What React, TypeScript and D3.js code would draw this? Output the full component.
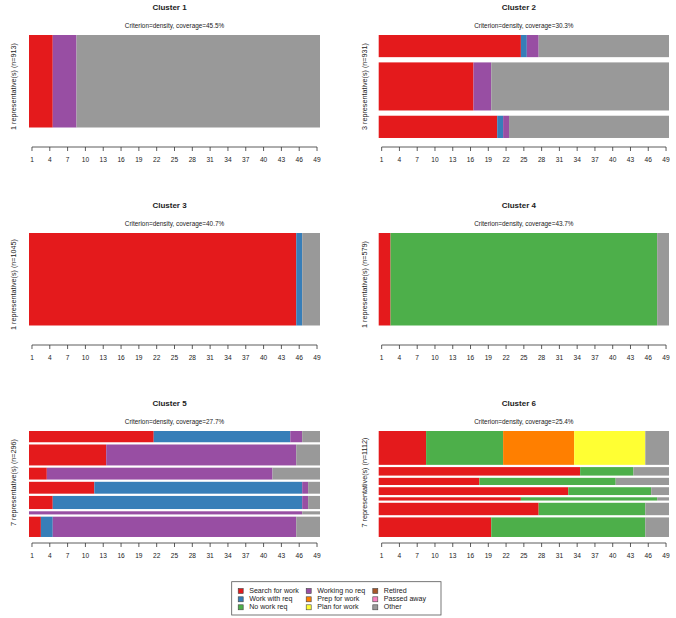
import React from "react";
import * as d3 from "d3";

// estados y colores (paleta Set1)
const stateCodes = ["SW", "WR", "NW", "WN", "PR", "PL", "RE", "PA", "OT"];
const stateLabels = [
  "Search for work",
  "Work with req",
  "No work req",
  "Working no req",
  "Prep for work",
  "Plan for work",
  "Retired",
  "Passed away",
  "Other",
];
const stateColors = [
  "#E41A1C",
  "#377EB8",
  "#4DAF4A",
  "#984EA3",
  "#FF7F00",
  "#FFFF33",
  "#A65628",
  "#F781BF",
  "#999999",
];

const seqLength = 49;
const tickLabels = [1, 4, 7, 10, 13, 16, 19, 22, 25, 28, 31, 34, 37, 40, 43, 46, 49];

const clusterNames = ["Cluster 1", "Cluster 2", "Cluster 3", "Cluster 4", "Cluster 5", "Cluster 6"];
const clusterN = [913, 931, 1045, 579, 296, 1112];
const clusterCoverage = [45.5, 30.3, 40.7, 43.7, 27.7, 25.4];

// secuencias representativas, por tramos [estado, duracion]
type Run = [string, number];
const repSequences: Run[][][] = [
  [[["SW", 4], ["WN", 4], ["OT", 41]]],
  [
    [["SW", 24], ["WR", 1], ["WN", 2], ["OT", 22]],
    [["SW", 16], ["WN", 3], ["OT", 30]],
    [["SW", 20], ["WR", 1], ["WN", 1], ["OT", 27]],
  ],
  [[["SW", 45], ["WR", 1], ["OT", 3]]],
  [[["SW", 2], ["NW", 45], ["OT", 2]]],
  [
    [["SW", 21], ["WR", 23], ["WN", 2], ["OT", 3]],
    [["SW", 13], ["WN", 32], ["OT", 4]],
    [["SW", 3], ["WN", 38], ["OT", 8]],
    [["SW", 11], ["WR", 35], ["WN", 1], ["OT", 2]],
    [["SW", 4], ["WR", 42], ["WN", 1], ["OT", 2]],
    [["WN", 46], ["OT", 3]],
    [["SW", 2], ["WR", 2], ["WN", 41], ["OT", 4]],
  ],
  [
    [["SW", 8], ["NW", 13], ["PR", 12], ["PL", 12], ["OT", 4]],
    [["SW", 34], ["NW", 9], ["OT", 6]],
    [["SW", 17], ["NW", 23], ["OT", 9]],
    [["SW", 32], ["NW", 14], ["OT", 3]],
    [["SW", 24], ["NW", 23], ["OT", 2]],
    [["SW", 27], ["NW", 18], ["OT", 4]],
    [["SW", 19], ["NW", 26], ["OT", 4]],
  ],
];

// numero de secuencias que representa cada representante
const repCounts = [
  [913],
  [223, 484, 224],
  [1045],
  [579],
  [36, 67, 38, 38, 42, 10, 65],
  [407, 102, 86, 94, 39, 149, 235],
];

const color = d3.scaleOrdinal<string, string>().domain(stateCodes).range(stateColors);

const font = "'Liberation Sans', Arial, sans-serif";

const colX = [
  [29, 320],
  [378.7, 669],
];
const rowTop = [35, 233, 431];
const ylabX = [13, 364.7];
const unitHeight = 92.5;
const space = 0.17;

const Panel = ({ idx }: { idx: number }) => {
  const col = idx % 2;
  const row = Math.floor(idx / 2);
  const [x0, x1] = colX[col];
  const top = rowTop[row];
  const reps = repSequences[idx];
  const counts = repCounts[idx];
  const n = clusterN[idx];

  const x = d3.scaleLinear().domain([0, seqLength]).range([x0, x1]);
  const y = d3.scaleLinear().domain([0, 1]).range([top, top + unitHeight]);

  // alto de cada barra proporcional a su peso, con espacio entre barras
  const gap = space / reps.length;
  let acc = 0;
  const bars = reps.map((runs, i) => {
    const h = counts[i] / n;
    const y0 = acc;
    acc += h + gap;
    let pos = 0;
    const segs = runs.map(([st, len]) => {
      const s = { st, start: pos, end: pos + len };
      pos += len;
      return s;
    });
    return { y0, h, segs };
  });

  const axisY = top + 112;
  const cx = (x0 + x1) / 2;

  return (
    <g>
      <text x={cx - 5} y={top - 25} textAnchor="middle" fontFamily={font} fontWeight="bold" fontSize={8} fill="#222">
        {clusterNames[idx]}
      </text>
      <text x={cx} y={top - 7} textAnchor="middle" fontFamily={font} fontSize={6.4} fill="#222">
        {`Criterion=density, coverage=${clusterCoverage[idx].toFixed(1)}%`}
      </text>
      <text
        transform={`translate(${ylabX[col]},${top + 51.5}) rotate(-90)`}
        textAnchor="middle"
        dominantBaseline="central"
        fontFamily={font}
        fontSize={7.2}
        fill="#222"
      >
        {`${reps.length} representative(s) (n=${n})`}
      </text>
      {bars.map((b, i) => (
        <g key={i}>
          {b.segs.map((s, j) => (
            <rect
              key={j}
              x={x(s.start)}
              width={x(s.end) - x(s.start)}
              y={y(b.y0)}
              height={y(b.y0 + b.h) - y(b.y0)}
              fill={color(s.st)}
            />
          ))}
        </g>
      ))}
      <line x1={x(0.5)} x2={x(seqLength - 0.5)} y1={axisY} y2={axisY} stroke="#333" strokeWidth={0.8} />
      {tickLabels.map((t) => (
        <g key={t}>
          <line x1={x(t - 0.5)} x2={x(t - 0.5)} y1={axisY} y2={axisY + 4} stroke="#333" strokeWidth={0.8} />
          <text x={x(t - 0.5)} y={axisY + 15} textAnchor="middle" fontFamily={font} fontSize={6.6} fill="#222">
            {t}
          </text>
        </g>
      ))}
    </g>
  );
};

const Legend = () => {
  const colsX = [240.7, 308.7, 375.3];
  const rowsY = [591, 599.3, 607.3];
  return (
    <g>
      <rect x={231.7} y={581.7} width={209.3} height={33.3} fill="none" stroke="#555" strokeWidth={0.8} />
      {stateLabels.map((lab, i) => {
        const c = Math.floor(i / 3);
        const r = i % 3;
        return (
          <g key={lab}>
            <rect
              x={colsX[c] - 2.5}
              y={rowsY[r] - 2.5}
              width={5}
              height={5}
              fill={stateColors[i]}
              stroke="#444"
              strokeWidth={0.6}
            />
            <text x={colsX[c] + 8.5} y={rowsY[r]} dominantBaseline="central" fontFamily={font} fontSize={7.1} fill="#222">
              {lab}
            </text>
          </g>
        );
      })}
    </g>
  );
};

export default function App() {
  return (
    <svg width={676} height={618} style={{ position: "absolute", left: 0, top: 0, background: "#fff" }}>
      <rect width={676} height={618} fill="#fff" />
      {clusterNames.map((_, i) => (
        <Panel key={i} idx={i} />
      ))}
      <Legend />
    </svg>
  );
}
